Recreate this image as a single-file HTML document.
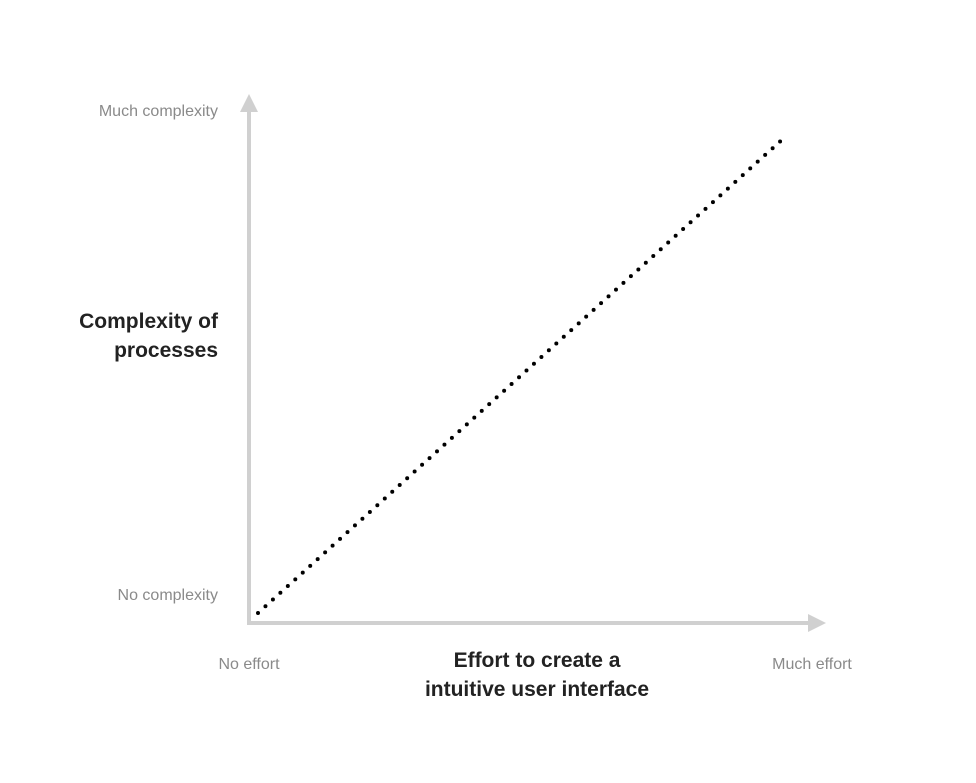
<!DOCTYPE html>
<html><head><meta charset="utf-8"><style>
body{margin:0;background:#fff;width:976px;height:778px;overflow:hidden}
svg text{font-family:"Liberation Sans",Arial,sans-serif}
</style></head><body>
<svg width="976" height="778" viewBox="0 0 976 778">
<g id="axes">
<line x1="249" y1="110" x2="249" y2="623" stroke="#d0d0d0" stroke-width="4"/>
<polygon points="249,94 240,112 258,112" fill="#d0d0d0"/>
<line x1="247" y1="623" x2="810" y2="623" stroke="#d0d0d0" stroke-width="4"/>
<polygon points="826,623 808,614 808,632" fill="#d0d0d0"/>
</g>
<text x="218" y="116" text-anchor="end" font-size="16" fill="#8a8a8a">Much complexity</text>
<text x="218" y="600" text-anchor="end" font-size="16" fill="#8a8a8a">No complexity</text>
<text x="249" y="669" text-anchor="middle" font-size="16" fill="#8a8a8a">No effort</text>
<text x="812" y="669" text-anchor="middle" font-size="16" fill="#8a8a8a">Much effort</text>
<text x="218" y="328" text-anchor="end" font-size="21" font-weight="bold" fill="#222"><tspan x="218">Complexity of</tspan><tspan x="218" dy="29">processes</tspan></text>
<text x="537" y="667" text-anchor="middle" font-size="21" font-weight="bold" fill="#222"><tspan x="537">Effort to create a</tspan><tspan x="537" dy="29">intuitive user interface</tspan></text>
<g id="series"></g>
</svg>
<script>
const xValues = [0, 1];
const yValues = [0, 1];
function xScale(v){ return 258 + v * (785 - 258); }
function yScale(v){ return 613 - v * (613 - 137); }
const g = document.getElementById('series');
const ln = document.createElementNS('http://www.w3.org/2000/svg','polyline');


ln.setAttribute('points', xValues.map((x,i)=>xScale(x)+','+yScale(yValues[i])).join(' '));
ln.setAttribute('fill','none');
ln.setAttribute('stroke','#000');
ln.setAttribute('stroke-width','4');
ln.setAttribute('stroke-linecap','round');
ln.setAttribute('stroke-dasharray','0 10.05');
g.appendChild(ln);
</script>
</body></html>
